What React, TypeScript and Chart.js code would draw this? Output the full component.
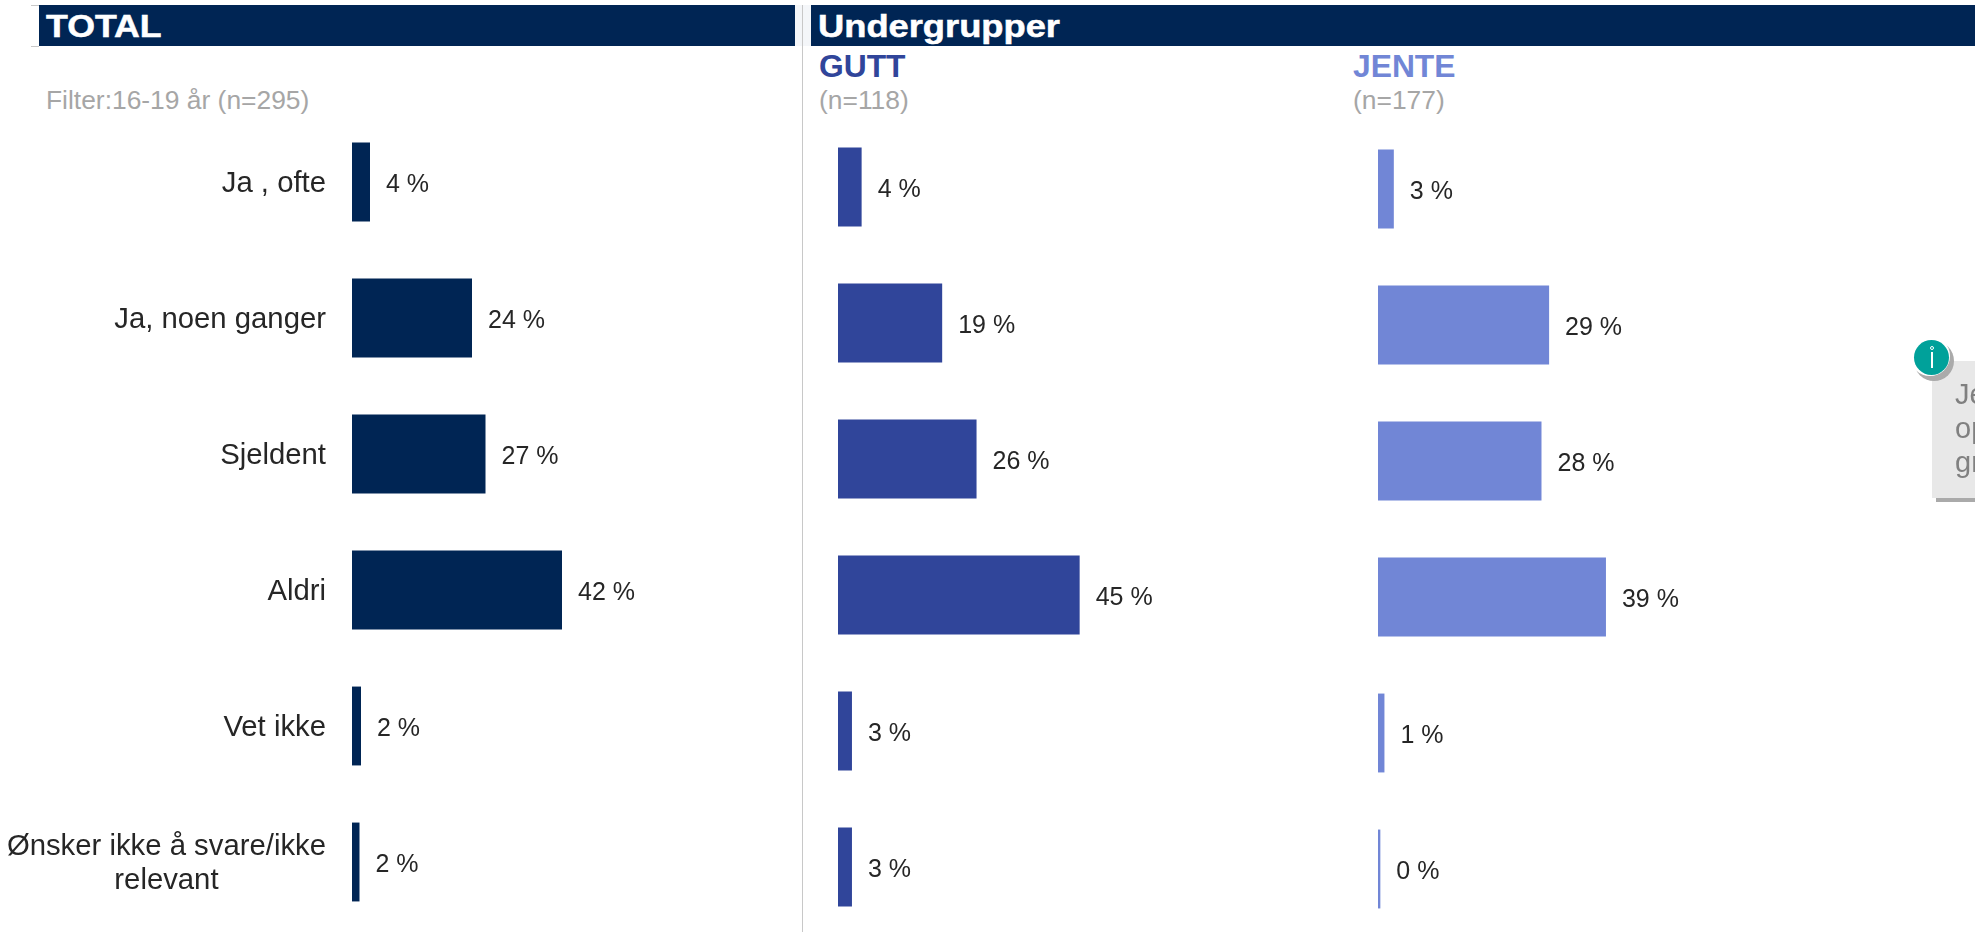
import React, { useEffect, useRef } from "react";
import { Chart, registerables } from "chart.js";

Chart.register(...registerables);

const categories = [
  "Ja , ofte",
  "Ja, noen ganger",
  "Sjeldent",
  "Aldri",
  "Vet ikke",
  ["Ønsker ikke å svare/ikke", "relevant"],
];
const totalValues = [3.6, 24, 26.7, 42, 1.8, 1.5];
const guttValues = [4.4, 19.4, 25.8, 45, 2.6, 2.6];
const jenteValues = [2.7, 29.2, 27.9, 38.9, 1.1, 0.4];

const FONT = '"Liberation Sans", Arial, sans-serif';

const valueLabels = {
  id: "valueLabels",
  afterDatasetsDraw(chart: any) {
    const { ctx } = chart;
    const meta = chart.getDatasetMeta(0);
    ctx.save();
    ctx.font = `25px ${FONT}`;
    ctx.fillStyle = "#262626";
    ctx.textAlign = "left";
    ctx.textBaseline = "middle";
    meta.data.forEach((bar: any, i: number) => {
      const v = chart.data.datasets[0].data[i];
      ctx.fillText(`${Math.round(v)} %`, bar.x + 16, bar.y + 3);
    });
    ctx.restore();
  },
};

// Category labels, right-aligned to the axis; extra lines are centred under the first line.
const categoryLabels = {
  id: "categoryLabels",
  afterDraw(chart: any) {
    const y = chart.scales.y;
    if (!y || !y.options.display) return;
    const { ctx } = chart;
    const right = chart.chartArea.left - 26;
    ctx.save();
    ctx.font = `29.3px ${FONT}`;
    ctx.fillStyle = "#262626";
    ctx.textBaseline = "middle";
    chart.data.labels.forEach((label: any, i: number) => {
      const lines: string[] = Array.isArray(label) ? label : [label];
      const w = Math.max(...lines.map((l) => ctx.measureText(l).width));
      const lh = 34;
      const cy = y.getPixelForTick(i) + 2 - ((lines.length - 1) * lh) / 2;
      ctx.textAlign = "center";
      lines.forEach((l, k) => ctx.fillText(l, right - w / 2, cy + k * lh));
    });
    ctx.restore();
  },
};

function BarPanel(props: {
  values: number[];
  color: string;
  max: number;
  left: number;
  top: number;
  width: number;
  axisWidth: number;
}) {
  const ref = useRef<HTMLCanvasElement>(null);
  useEffect(() => {
    const chart = new Chart(ref.current!, {
      type: "bar",
      data: {
        labels: categories as any,
        datasets: [
          {
            data: props.values,
            backgroundColor: props.color,
            categoryPercentage: 1,
            barPercentage: 0.58,
          },
        ],
      },
      plugins: [valueLabels, categoryLabels],
      options: {
        indexAxis: "y",
        animation: false,
        responsive: false,
        layout: { padding: 0, autoPadding: false },
        plugins: { legend: { display: false }, tooltip: { enabled: false } },
        scales: {
          x: { display: false, min: 0, max: props.max },
          y: {
            display: props.axisWidth > 0,
            afterFit: (s: any) => {
              s.width = props.axisWidth;
              s.paddingTop = 0;
              s.paddingBottom = 0;
            },
            border: { display: false },
            grid: { display: false },
            ticks: { display: false, autoSkip: false },
          },
        },
      },
    } as any);
    return () => chart.destroy();
  }, []);
  return (
    <canvas
      ref={ref}
      width={props.width}
      height={816}
      style={{ position: "absolute", left: props.left, top: props.top, width: props.width, height: 816 }}
    />
  );
}

const abs = (left: number, top: number, w: number, h: number, bg: string): React.CSSProperties => ({
  position: "absolute",
  left,
  top,
  width: w,
  height: h,
  background: bg,
});

const text = (left: number, top: number, size: number, color: string, bold = false): React.CSSProperties => ({
  position: "absolute",
  left,
  top,
  fontFamily: FONT,
  fontSize: size,
  lineHeight: `${size + 4}px`,
  color,
  fontWeight: bold ? 700 : 400,
  whiteSpace: "nowrap",
});

const header = (left: number, sx: number): React.CSSProperties => ({
  ...text(left, 9, 30.5, "#fff", true),
  transform: `scaleX(${sx})`,
  transformOrigin: "left center",
  WebkitTextStroke: "0.5px #fff",
});

export default function App() {
  return (
    <div style={{ position: "absolute", left: 0, top: 0, width: 1975, height: 932, overflow: "hidden", background: "#fff" }}>
      <div style={abs(31, 5, 8, 1, "#c8c8c8")} />
      <div style={abs(31, 46, 8, 1, "#c8c8c8")} />
      <div style={abs(39, 5, 756, 41, "#002554")} />
      <div style={abs(795, 5, 16, 41, "#f4f6f9")} />
      <div style={abs(811, 5, 1164, 41, "#002554")} />
      <div style={abs(802, 5, 1, 927, "#c8c8c8")} />

      <div style={header(46, 1.17)}>TOTAL</div>
      <div style={header(818, 1.19)}>Undergrupper</div>
      <div style={text(46, 85, 26.4, "#a6a6a6")}>Filter:16-19 år (n=295)</div>
      <div style={text(819, 49, 31.8, "#30459a", true)}>GUTT</div>
      <div style={text(819, 85, 26.4, "#a6a6a6")}>(n=118)</div>
      <div style={text(1353, 49, 31.8, "#7186d6", true)}>JENTE</div>
      <div style={text(1353, 85, 26.4, "#a6a6a6")}>(n=177)</div>

      <BarPanel values={totalValues} color="#002554" max={90} left={0} top={114} width={802} axisWidth={352} />
      <BarPanel values={guttValues} color="#30459a" max={100} left={838} top={119} width={537} axisWidth={0} />
      <BarPanel values={jenteValues} color="#7186d6" max={100} left={1378} top={121} width={586} axisWidth={0} />

      <div style={abs(1936, 365, 39, 137, "#aaaaaa")} />
      <div style={abs(1932, 361, 43, 137, "#e8e8e8")} />
      <div style={{ ...text(1955, 378, 29, "#808080"), lineHeight: "33px" }}>Je</div>
      <div style={{ ...text(1955, 412, 29, "#808080"), lineHeight: "33px" }}>op</div>
      <div style={{ ...text(1955, 446, 29, "#808080"), lineHeight: "33px" }}>gr</div>
      <div style={{ ...abs(1914, 341, 40, 40, "#aaaaaa"), borderRadius: "50%" }} />
      <div style={{ ...abs(1912, 338, 36, 36, "#fff"), borderRadius: "50%", boxShadow: "0 0 0 2px #fff" }} />
      <div style={{ ...abs(1914, 340, 36, 36, "#00a19a"), borderRadius: "50%", left: 1914, top: 340, width: 35, height: 35 }} />
      <div style={abs(1931, 352, 2, 16, "#fff")} />
      <div style={{ ...abs(1930, 346, 4, 4, "transparent"), borderRadius: "50%", border: "1px solid #fff", boxSizing: "border-box" }} />
    </div>
  );
}
